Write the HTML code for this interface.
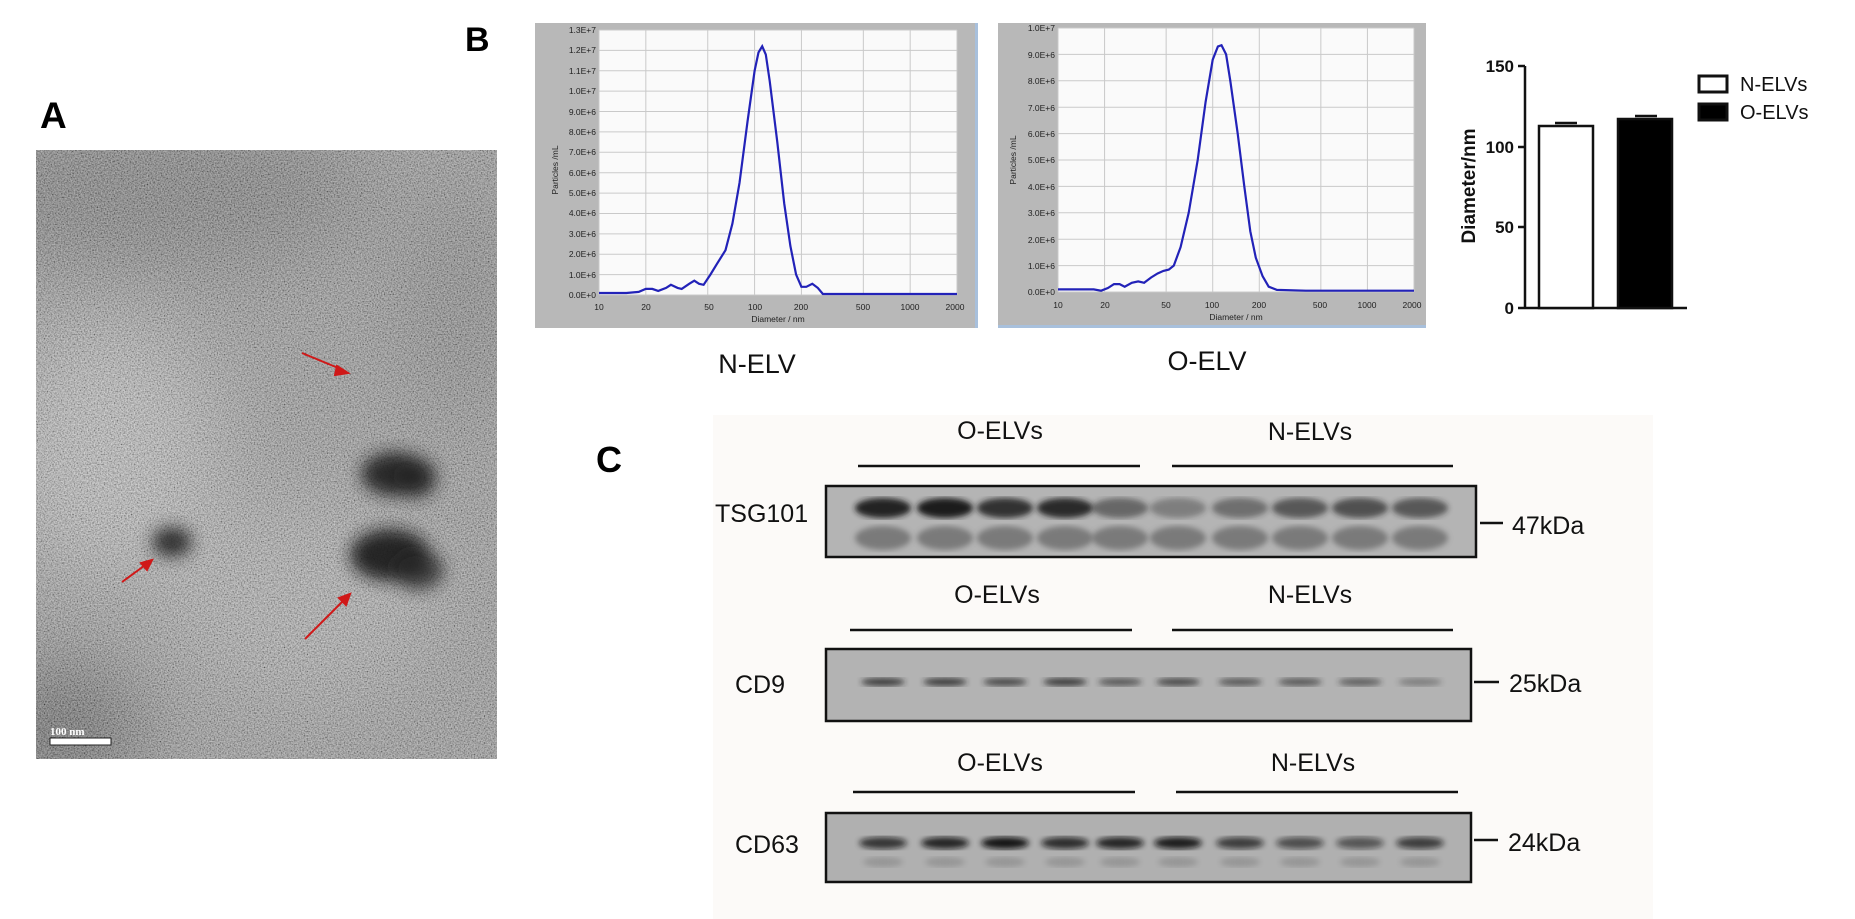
<!DOCTYPE html>
<html><head><meta charset="utf-8">
<style>
html,body{margin:0;padding:0;background:#fff;}
body{width:1855px;height:919px;position:relative;overflow:hidden;font-family:"Liberation Sans",Arial,sans-serif;}
.abs{position:absolute;}
</style></head>
<body>
<svg class="abs" style="left:0;top:0" width="1855" height="919" viewBox="0 0 1855 919" font-family="Liberation Sans, Arial, sans-serif">
<defs>
  <filter id="noise" x="0" y="0" width="100%" height="100%">
    <feTurbulence type="fractalNoise" baseFrequency="0.7" numOctaves="2" seed="3" result="t"/>
    <feColorMatrix in="t" type="matrix" values="0 0 0 1.6 -0.3  0 0 0 1.6 -0.3  0 0 0 1.6 -0.3  0 0 0 0 0.45" />
  </filter>
  <clipPath id="clipA"><rect x="36" y="150" width="461" height="609"/></clipPath>
  <radialGradient id="blob"><stop offset="0" stop-color="#1a1a1a" stop-opacity="1"/><stop offset="0.6" stop-color="#2a2a2a" stop-opacity="0.85"/><stop offset="1" stop-color="#444" stop-opacity="0"/></radialGradient>
  <filter id="blur3"><feGaussianBlur stdDeviation="3"/></filter>
  <filter id="blur40"><feGaussianBlur stdDeviation="40"/></filter>
  <filter id="blur8"><feGaussianBlur stdDeviation="8"/></filter>
</defs>

<!-- Panel A -->
<text x="40" y="128" font-size="37" font-weight="bold">A</text>
<g clip-path="url(#clipA)">
<rect x="36" y="150" width="461" height="609" fill="#8e8e8e"/>
<g filter="url(#blur40)">
<ellipse cx="150" cy="190" rx="220" ry="80" fill="#6e6e6e"/>
<ellipse cx="110" cy="450" rx="110" ry="130" fill="#b2b2b2"/>
<ellipse cx="300" cy="600" rx="140" ry="100" fill="#a4a4a4"/>
<ellipse cx="60" cy="730" rx="80" ry="60" fill="#505050"/>
<ellipse cx="460" cy="300" rx="60" ry="120" fill="#7a7a7a"/>
</g>
<rect x="36" y="150" width="461" height="609" filter="url(#noise)"/>
<g filter="url(#blur8)">
<ellipse cx="172" cy="542" rx="20" ry="15" fill="#222" opacity="0.9"/>
<ellipse cx="395" cy="474" rx="34" ry="22" fill="#1e1e1e" opacity="0.9"/>
<ellipse cx="415" cy="478" rx="22" ry="20" fill="#222" opacity="0.8"/>
<ellipse cx="390" cy="555" rx="40" ry="26" fill="#1a1a1a" opacity="0.9"/>
<ellipse cx="418" cy="570" rx="26" ry="20" fill="#252525" opacity="0.8"/>
</g>
</g>
<g stroke="#d01818" stroke-width="2" fill="#d01818">
<line x1="122" y1="582" x2="148" y2="563"/><polygon points="152,560 141,563 147,570"/>
<line x1="302" y1="353" x2="343" y2="370"/><polygon points="348,373 337,366 335,375"/>
<line x1="305" y1="639" x2="346" y2="598"/><polygon points="350,594 339,598 346,605"/>
</g>
<text x="50" y="735" font-size="11" fill="#fff" font-family="Liberation Serif, serif" font-weight="bold">100 nm</text>
<rect x="50" y="738" width="61" height="7" fill="#fff" stroke="#222" stroke-width="1"/>

<!-- Panel B -->
<text x="465" y="51" font-size="34" font-weight="bold">B</text>

<rect x="535" y="23" width="442" height="305" fill="#b8b8b8"/>
<rect x="975" y="23" width="3" height="305" fill="#a8c0dc"/>
<rect x="599" y="30" width="358" height="265" fill="#fafafa"/>
<g id="g1" stroke="#c9c9c9" stroke-width="1"></g>
<path id="c1" fill="none" stroke="#2222b8" stroke-width="2.2"/>
<g font-size="8.5" fill="#222" text-anchor="end">
<text x="596" y="33">1.3E+7</text><text x="596" y="53">1.2E+7</text><text x="596" y="74">1.1E+7</text><text x="596" y="94">1.0E+7</text><text x="596" y="115">9.0E+6</text><text x="596" y="135">8.0E+6</text><text x="596" y="155">7.0E+6</text><text x="596" y="176">6.0E+6</text><text x="596" y="196">5.0E+6</text><text x="596" y="216">4.0E+6</text><text x="596" y="237">3.0E+6</text><text x="596" y="257">2.0E+6</text><text x="596" y="278">1.0E+6</text><text x="596" y="298">0.0E+0</text>
</g>
<g font-size="8.5" fill="#222" text-anchor="middle">
<text x="599" y="310">10</text><text x="646" y="310">20</text><text x="709" y="310">50</text><text x="755" y="310">100</text><text x="801" y="310">200</text><text x="863" y="310">500</text><text x="910" y="310">1000</text><text x="955" y="310">2000</text>
<text x="778" y="322">Diameter / nm</text>
</g>
<text transform="translate(558,170) rotate(-90)" font-size="8.5" text-anchor="middle" fill="#222">Particles /mL</text>

<rect x="998" y="23" width="428" height="304" fill="#b8b8b8"/>
<rect x="998" y="325" width="428" height="3" fill="#a8c0dc"/>
<rect x="1058" y="28" width="356" height="264" fill="#fafafa"/>
<g id="g2" stroke="#c9c9c9" stroke-width="1"></g>
<path id="c2" fill="none" stroke="#2222b8" stroke-width="2.2"/>
<g font-size="8.5" fill="#222" text-anchor="end">
<text x="1055" y="31">1.0E+7</text><text x="1055" y="58">9.0E+6</text><text x="1055" y="84">8.0E+6</text><text x="1055" y="111">7.0E+6</text><text x="1055" y="137">6.0E+6</text><text x="1055" y="163">5.0E+6</text><text x="1055" y="190">4.0E+6</text><text x="1055" y="216">3.0E+6</text><text x="1055" y="243">2.0E+6</text><text x="1055" y="269">1.0E+6</text><text x="1055" y="295">0.0E+0</text>
</g>
<g font-size="8.5" fill="#222" text-anchor="middle">
<text x="1058" y="308">10</text><text x="1105" y="308">20</text><text x="1166" y="308">50</text><text x="1212" y="308">100</text><text x="1259" y="308">200</text><text x="1320" y="308">500</text><text x="1367" y="308">1000</text><text x="1412" y="308">2000</text>
<text x="1236" y="320">Diameter / nm</text>
</g>
<text transform="translate(1016,160) rotate(-90)" font-size="8.5" text-anchor="middle" fill="#222">Particles /mL</text>

<text x="757" y="373" font-size="27" text-anchor="middle" fill="#111">N-ELV</text>
<text x="1207" y="370" font-size="27" text-anchor="middle" fill="#111">O-ELV</text>

<g stroke="#111" stroke-width="2.5" fill="none">
<line x1="1525" y1="66" x2="1525" y2="309"/>
<line x1="1518" y1="308" x2="1687" y2="308"/>
<line x1="1518" y1="66" x2="1525" y2="66"/><line x1="1518" y1="147" x2="1525" y2="147"/><line x1="1518" y1="227" x2="1525" y2="227"/>
<rect x="1539" y="126" width="54" height="182" fill="#fff"/>
<rect x="1618" y="119" width="54" height="189" fill="#000"/>
<line x1="1555" y1="123" x2="1577" y2="123"/><line x1="1635" y1="116" x2="1657" y2="116"/>
<rect x="1699" y="76" width="28" height="16" fill="#fff" stroke-width="3"/>
<rect x="1699" y="104" width="28" height="16" fill="#000" stroke-width="3"/>
</g>
<g font-size="17" font-weight="bold" text-anchor="end" fill="#111">
<text x="1514" y="72">150</text><text x="1514" y="153">100</text><text x="1514" y="233">50</text><text x="1514" y="314">0</text>
</g>
<text transform="translate(1475,186) rotate(-90)" font-size="19" font-weight="bold" text-anchor="middle" fill="#111">Diameter/nm</text>
<text x="1740" y="91" font-size="20" fill="#111">N-ELVs</text>
<text x="1740" y="119" font-size="20" fill="#111">O-ELVs</text>

<!-- Panel C -->
<text x="596" y="472" font-size="36" font-weight="bold">C</text>
<rect x="713" y="415" width="940" height="504" fill="#fcfaf8"/>
<g font-size="25" fill="#111">
<text x="1000" y="439" text-anchor="middle">O-ELVs</text><text x="1310" y="440" text-anchor="middle">N-ELVs</text>
<text x="997" y="603" text-anchor="middle">O-ELVs</text><text x="1310" y="603" text-anchor="middle">N-ELVs</text>
<text x="1000" y="771" text-anchor="middle">O-ELVs</text><text x="1313" y="771" text-anchor="middle">N-ELVs</text>
<text x="715" y="522">TSG101</text>
<text x="735" y="693">CD9</text>
<text x="735" y="853">CD63</text>
<text x="1512" y="534">47kDa</text><text x="1509" y="692">25kDa</text><text x="1508" y="851">24kDa</text>
</g>
<g stroke="#111" stroke-width="2.5">
<line x1="858" y1="466" x2="1140" y2="466"/><line x1="1172" y1="466" x2="1453" y2="466"/>
<line x1="850" y1="630" x2="1132" y2="630"/><line x1="1172" y1="630" x2="1453" y2="630"/>
<line x1="853" y1="792" x2="1135" y2="792"/><line x1="1176" y1="792" x2="1458" y2="792"/>
<line x1="1480" y1="523" x2="1503" y2="523"/><line x1="1474" y1="682" x2="1499" y2="682"/><line x1="1474" y1="840" x2="1498" y2="840"/>
</g>
<rect x="826" y="486" width="650" height="71" fill="#b4b4b4" stroke="#111" stroke-width="2.5"/>
<rect x="826" y="649" width="645" height="72" fill="#b3b3b3" stroke="#111" stroke-width="2.5"/>
<rect x="826" y="813" width="645" height="69" fill="#b0b0b0" stroke="#111" stroke-width="2.5"/>
<g id="bands"></g>
</svg>
<script>
(function(){
var ns="http://www.w3.org/2000/svg";
function grid(gid,x0,x1,y0,y1,n){
  var g=document.getElementById(gid),W=x1-x0;
  [10,20,50,100,200,500,1000,2000].forEach(function(d){var x=x0+W*Math.log10(d/10)/Math.log10(200);var l=document.createElementNS(ns,"line");l.setAttribute("x1",x);l.setAttribute("x2",x);l.setAttribute("y1",y0);l.setAttribute("y2",y1);g.appendChild(l);});
  for(var i=0;i<=n;i++){var y=y0+(y1-y0)*i/n;var l=document.createElementNS(ns,"line");l.setAttribute("x1",x0);l.setAttribute("x2",x1);l.setAttribute("y1",y);l.setAttribute("y2",y);g.appendChild(l);}
}
grid("g1",599,957,30,295,13);grid("g2",1058,1414,28,292,10);
function curve(id,x0,x1,yb,yt,vmax,pts){
  var W=x1-x0,d="";
  pts.forEach(function(p,i){var x=x0+W*Math.log10(p[0]/10)/Math.log10(200);var y=yb-(yb-yt)*p[1]/vmax;d+=(i?"L":"M")+x.toFixed(1)+","+y.toFixed(1);});
  document.getElementById(id).setAttribute("d",d);
}
curve("c1",599,957,295,30,13,[[10,0.1],[15,0.1],[18,0.15],[20,0.3],[22,0.3],[24,0.2],[27,0.35],[29,0.5],[32,0.35],[34,0.3],[38,0.55],[41,0.7],[44,0.55],[47,0.5],[52,1.0],[57,1.5],[65,2.2],[72,3.5],[80,5.5],[90,8.5],[100,11.0],[106,11.9],[112,12.2],[118,11.8],[125,10.5],[140,7.5],[155,4.5],[170,2.4],[185,1.0],[200,0.4],[215,0.4],[235,0.55],[255,0.35],[275,0.05],[300,0.05],[2000,0.05]]);
curve("c2",1058,1414,292,28,10,[[10,0.1],[17,0.1],[19,0.05],[21,0.15],[23,0.3],[25,0.3],[27,0.2],[30,0.35],[33,0.4],[36,0.35],[40,0.55],[44,0.7],[48,0.8],[52,0.85],[56,1.0],[62,1.7],[70,3.0],[80,5.0],[90,7.2],[100,8.8],[108,9.3],[114,9.35],[122,9.0],[130,8.0],[145,6.0],[160,4.0],[175,2.3],[190,1.3],[210,0.6],[230,0.2],[260,0.08],[400,0.05],[2000,0.05]]);
var b=document.getElementById("bands");
function band(cx,cy,rx,ry,c,op){var e=document.createElementNS(ns,"ellipse");e.setAttribute("cx",cx);e.setAttribute("cy",cy);e.setAttribute("rx",rx);e.setAttribute("ry",ry);e.setAttribute("fill",c);e.setAttribute("opacity",op);e.setAttribute("filter","url(#blur3)");b.appendChild(e);}
var lx=[883,945,1005,1065,1120,1178,1240,1300,1360,1420];
var t1=[0.95,1,0.85,0.9,0.5,0.35,0.45,0.6,0.65,0.6];
lx.forEach(function(x,i){band(x,508,28,10,"#1a1a1a",t1[i]);band(x,538,28,12,"#555",0.6);});
var t2=[0.8,0.8,0.7,0.8,0.6,0.7,0.6,0.6,0.55,0.35];
lx.forEach(function(x,i){band(x,682,22,4,"#222",t2[i]);});
var t3=[0.75,0.85,0.95,0.8,0.85,0.9,0.7,0.6,0.55,0.7];
lx.forEach(function(x,i){band(x,843,24,6,"#111",t3[i]);band(x,862,20,5,"#666",0.35);});
})();
</script>
</body></html>
